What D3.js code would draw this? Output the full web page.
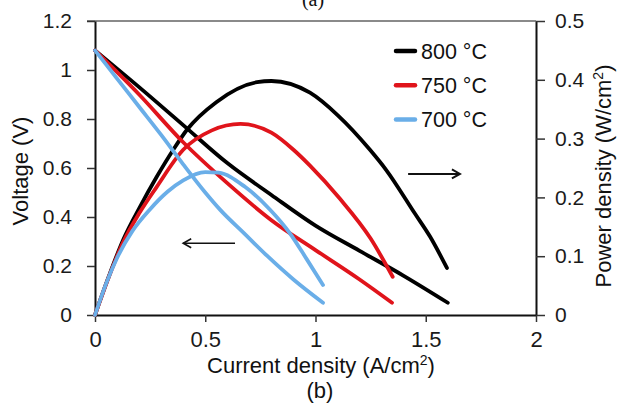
<!DOCTYPE html>
<html><head><meta charset="utf-8">
<script src="https://cdn.jsdelivr.net/npm/d3@7"></script>
<style>
html,body{margin:0;padding:0;background:#fff;}
svg{display:block;font-family:"Liberation Sans",Arial,sans-serif;}
</style></head>
<body><svg id="c" width="617" height="405"></svg>
<script>
// ---- data ----
const legendLabels = ["800 °C", "750 °C", "700 °C"];
const seriesColors = ["#000000", "#e0141b", "#6aaee8"];

// voltage curves (left axis)
const v800I = [0, 0.2, 0.4, 0.6, 0.8, 1.0, 1.2, 1.4, 1.6];
const v800V = [1.08, 0.93, 0.775, 0.62, 0.49, 0.365, 0.262, 0.16, 0.05];
const v750I = [0, 0.2, 0.4, 0.6, 0.8, 1.0, 1.2, 1.347];
const v750V = [1.08, 0.9, 0.705, 0.538, 0.387, 0.265, 0.145, 0.05];
const v700I = [0, 0.1, 0.2, 0.3, 0.4, 0.5, 0.567, 0.68, 0.78, 0.9, 1.034];
const v700V = [1.08, 0.965, 0.85, 0.735, 0.615, 0.5, 0.43, 0.33, 0.242, 0.145, 0.05];

// power density curves (right axis)
const p800I = [0, 0.06, 0.128, 0.204, 0.28, 0.355, 0.417, 0.55, 0.735, 0.8, 0.975, 1.1, 1.247, 1.32, 1.45, 1.52, 1.596];
const p800P = [0, 0.063, 0.128, 0.184, 0.235, 0.281, 0.315, 0.362, 0.396, 0.398, 0.378, 0.34, 0.281, 0.247, 0.173, 0.133, 0.08];
const p750I = [0, 0.06, 0.128, 0.204, 0.28, 0.4, 0.53, 0.66, 0.8, 0.9, 0.975, 1.11, 1.25, 1.35];
const p750P = [0, 0.062, 0.124, 0.175, 0.218, 0.281, 0.314, 0.325, 0.31, 0.281, 0.254, 0.198, 0.13, 0.065];
const p700I = [0, 0.05, 0.1, 0.17, 0.25, 0.33, 0.4, 0.5, 0.56, 0.68, 0.794, 0.884, 0.96, 1.034];
const p700P = [0, 0.053, 0.097, 0.143, 0.18, 0.21, 0.229, 0.243, 0.242, 0.218, 0.179, 0.139, 0.095, 0.051];

const xTicks = [0, 0.5, 1, 1.5, 2];
const yLeftTicks = [0, 0.2, 0.4, 0.6, 0.8, 1, 1.2];
const yRightTicks = [0, 0.1, 0.2, 0.3, 0.4, 0.5];

// arrows (annotation positions in data units)
const arrowRight = {x1: 1.42, x2: 1.655, p: 0.24};
const arrowLeft = {x1: 0.635, x2: 0.4, v: 0.293};

// ---- drawing ----
const svg = d3.select("#c");
const X0 = 95, X1 = 536, Y0 = 315, Y1 = 21;
const x = d3.scaleLinear().domain([0, 2]).range([X0, X1]);
const yV = d3.scaleLinear().domain([0, 1.2]).range([Y0, Y1]);
const yP = d3.scaleLinear().domain([0, 0.5]).range([Y0, Y1]);

const fmt = v => (v === 0 ? "0" : Number.isInteger(v) ? String(v) : d3.format(".1f")(v));

// top border line
svg.append("line").attr("x1", X0 - 8).attr("x2", X1).attr("y1", Y1).attr("y2", Y1)
  .attr("stroke", "#8a8a8a").attr("stroke-width", 2);

function styleAxis(g, fs) {
  g.select(".domain").attr("stroke", "#111").attr("stroke-width", 2);
  g.selectAll(".tick line").attr("stroke", "#333").attr("stroke-width", 1.5);
  g.selectAll(".tick text").attr("fill", "#1a1a1a").style("font-size", fs + "px")
    .style("font-family", '"Liberation Sans",Arial,sans-serif');
}

const gx = svg.append("g").attr("transform", `translate(0,${Y0})`)
  .call(d3.axisBottom(x).tickValues(xTicks).tickFormat(fmt).tickSize(7).tickSizeOuter(0).tickPadding(9));
styleAxis(gx, 22);
const gl = svg.append("g").attr("transform", `translate(${X0},0)`)
  .call(d3.axisLeft(yV).tickValues(yLeftTicks).tickFormat(fmt).tickSize(8).tickSizeOuter(0).tickPadding(15));
styleAxis(gl, 21);
const gr = svg.append("g").attr("transform", `translate(${X1},0)`)
  .call(d3.axisRight(yP).tickValues(yRightTicks).tickFormat(fmt).tickSize(9).tickSizeOuter(0).tickPadding(10));
styleAxis(gr, 21);

// curves
const lineV = d3.line().x(d => x(d[0])).y(d => yV(d[1])).curve(d3.curveMonotoneX);
const lineP = d3.line().x(d => x(d[0])).y(d => yP(d[1])).curve(d3.curveMonotoneX);
const vSeries = [[v800I, v800V], [v750I, v750V], [v700I, v700V]];
const pSeries = [[p800I, p800P], [p750I, p750P], [p700I, p700P]];
vSeries.forEach((s, i) => {
  const pd = pSeries[i];
  svg.append("path").datum(d3.zip(s[0], s[1])).attr("d", lineV)
    .attr("fill", "none").attr("stroke", seriesColors[i]).attr("stroke-width", 3.8)
    .attr("stroke-linecap", "round").attr("stroke-linejoin", "round");
  svg.append("path").datum(d3.zip(pd[0], pd[1])).attr("d", lineP)
    .attr("fill", "none").attr("stroke", seriesColors[i]).attr("stroke-width", 3.8)
    .attr("stroke-linecap", "round").attr("stroke-linejoin", "round");
});

// legend
const leg = svg.append("g");
legendLabels.forEach((lab, i) => {
  const yy = 51 + i * 34.3;
  leg.append("line").attr("x1", 396).attr("x2", 415).attr("y1", yy).attr("y2", yy)
    .attr("stroke", seriesColors[i]).attr("stroke-width", 4.5).attr("stroke-linecap", "round");
  leg.append("text").attr("x", 421).attr("y", yy).attr("dy", "0.35em")
    .style("font-size", "21.5px").attr("fill", "#111").text(lab);
});

// arrows
function arrow(x1, x2, yy, w) {
  const dir = Math.sign(x2 - x1);
  svg.append("line").attr("x1", x1).attr("x2", x2).attr("y1", yy).attr("y2", yy)
    .attr("stroke", "#111").attr("stroke-width", w);
  svg.append("path").attr("d", `M${x2 - dir * 8},${yy - 4.5}L${x2},${yy}L${x2 - dir * 8},${yy + 4.5}`)
    .attr("fill", "none").attr("stroke", "#111").attr("stroke-width", w);
}
arrow(x(arrowRight.x1), x(arrowRight.x2), yP(arrowRight.p), 2);
arrow(x(arrowLeft.x1), x(arrowLeft.x2), yV(arrowLeft.v), 1.6);

// axis titles
const xt = svg.append("text").attr("x", 321).attr("y", 373).attr("text-anchor", "middle")
  .style("font-size", "22px").attr("fill", "#111");
xt.append("tspan").text("Current density (A/cm");
xt.append("tspan").attr("dy", -8).style("font-size", "14px").text("2");
xt.append("tspan").attr("dy", 8).text(")");

svg.append("text").attr("transform", "translate(28,171) rotate(-90)").attr("text-anchor", "middle")
  .style("font-size", "22px").attr("fill", "#111").text("Voltage (V)");

const rt = svg.append("text").attr("transform", "translate(611,176) rotate(-90)").attr("text-anchor", "middle")
  .style("font-size", "22px").attr("fill", "#111");
rt.append("tspan").text("Power density (W/cm");
rt.append("tspan").attr("dy", -8).style("font-size", "14px").text("2");
rt.append("tspan").attr("dy", 8).text(")");

svg.append("text").attr("x", 320).attr("y", 398).attr("text-anchor", "middle")
  .style("font-size", "22px").attr("fill", "#111").text("(b)");
svg.append("text").attr("x", 313).attr("y", 6).attr("text-anchor", "middle")
  .style("font-family", '"Liberation Serif","Times New Roman",serif').style("font-size", "20px")
  .attr("fill", "#111").text("(a)");
</script></body></html>
